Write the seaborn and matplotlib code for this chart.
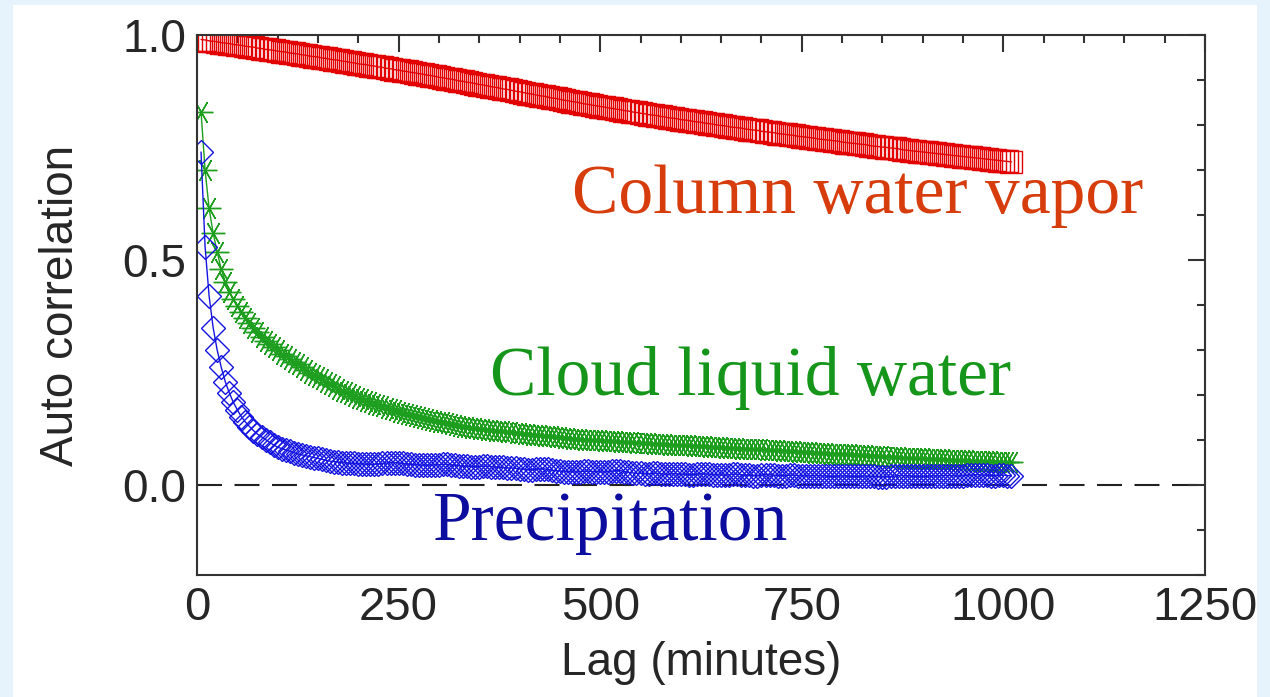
import numpy as np
import pandas as pd
import matplotlib
matplotlib.use('Agg')
import matplotlib.pyplot as plt
from matplotlib.patches import Rectangle
from matplotlib.ticker import MultipleLocator
import seaborn as sns

# lag axis (minutes), one sample every 5 minutes
lags = np.arange(5, 1015, 5)

column_water_vapor = [
    0.990, 0.989, 0.987, 0.986, 0.985, 0.983, 0.982, 0.981, 0.979, 0.978,
    0.977, 0.975, 0.974, 0.973, 0.971, 0.970, 0.968, 0.967, 0.966, 0.964,
    0.963, 0.962, 0.960, 0.959, 0.958, 0.956, 0.955, 0.953, 0.952, 0.951,
    0.949, 0.948, 0.946, 0.945, 0.944, 0.942, 0.941, 0.939, 0.938, 0.936,
    0.935, 0.934, 0.932, 0.931, 0.929, 0.928, 0.926, 0.925, 0.923, 0.922,
    0.920, 0.919, 0.917, 0.916, 0.914, 0.913, 0.911, 0.910, 0.908, 0.906,
    0.905, 0.903, 0.902, 0.900, 0.898, 0.897, 0.895, 0.894, 0.892, 0.890,
    0.889, 0.887, 0.885, 0.884, 0.882, 0.880, 0.879, 0.877, 0.875, 0.874,
    0.872, 0.870, 0.869, 0.867, 0.865, 0.864, 0.862, 0.860, 0.859, 0.857,
    0.855, 0.854, 0.852, 0.851, 0.849, 0.847, 0.846, 0.844, 0.843, 0.841,
    0.840, 0.838, 0.837, 0.835, 0.834, 0.832, 0.831, 0.829, 0.828, 0.826,
    0.825, 0.823, 0.822, 0.821, 0.819, 0.818, 0.816, 0.815, 0.814, 0.812,
    0.811, 0.810, 0.808, 0.807, 0.806, 0.804, 0.803, 0.802, 0.800, 0.799,
    0.798, 0.796, 0.795, 0.794, 0.793, 0.791, 0.790, 0.789, 0.788, 0.786,
    0.785, 0.784, 0.783, 0.781, 0.780, 0.779, 0.778, 0.777, 0.775, 0.774,
    0.773, 0.772, 0.771, 0.769, 0.768, 0.767, 0.766, 0.765, 0.764, 0.762,
    0.761, 0.760, 0.759, 0.758, 0.757, 0.756, 0.754, 0.753, 0.752, 0.751,
    0.750, 0.749, 0.748, 0.747, 0.745, 0.744, 0.743, 0.742, 0.741, 0.740,
    0.739, 0.738, 0.737, 0.736, 0.735, 0.734, 0.733, 0.732, 0.731, 0.730,
    0.729, 0.728, 0.727, 0.726, 0.725, 0.724, 0.723, 0.722, 0.721, 0.720,
    0.719, 0.718,
]

cloud_liquid_water = [
    0.830, 0.700, 0.615, 0.560, 0.518, 0.480, 0.452, 0.430, 0.413, 0.398,
    0.384, 0.371, 0.360, 0.349, 0.339, 0.330, 0.321, 0.313, 0.306, 0.299,
    0.292, 0.286, 0.280, 0.274, 0.268, 0.262, 0.256, 0.250, 0.245, 0.240,
    0.235, 0.229, 0.224, 0.219, 0.214, 0.210, 0.206, 0.202, 0.198, 0.194,
    0.191, 0.187, 0.184, 0.181, 0.178, 0.175, 0.172, 0.169, 0.166, 0.163,
    0.161, 0.158, 0.156, 0.153, 0.151, 0.149, 0.147, 0.145, 0.143, 0.141,
    0.139, 0.137, 0.135, 0.134, 0.132, 0.130, 0.129, 0.127, 0.126, 0.125,
    0.124, 0.123, 0.122, 0.121, 0.120, 0.119, 0.118, 0.117, 0.116, 0.115,
    0.114, 0.113, 0.112, 0.112, 0.111, 0.110, 0.109, 0.108, 0.107, 0.106,
    0.105, 0.104, 0.103, 0.103, 0.102, 0.101, 0.101, 0.100, 0.099, 0.099,
    0.098, 0.098, 0.097, 0.097, 0.096, 0.096, 0.095, 0.095, 0.094, 0.094,
    0.093, 0.093, 0.092, 0.092, 0.091, 0.091, 0.090, 0.090, 0.089, 0.089,
    0.088, 0.088, 0.087, 0.087, 0.086, 0.086, 0.085, 0.085, 0.084, 0.084,
    0.083, 0.083, 0.082, 0.082, 0.081, 0.081, 0.080, 0.080, 0.079, 0.079,
    0.078, 0.078, 0.077, 0.077, 0.076, 0.076, 0.075, 0.075, 0.074, 0.074,
    0.073, 0.073, 0.072, 0.072, 0.071, 0.071, 0.070, 0.070, 0.069, 0.069,
    0.068, 0.068, 0.067, 0.067, 0.066, 0.066, 0.065, 0.065, 0.064, 0.064,
    0.063, 0.063, 0.062, 0.062, 0.061, 0.061, 0.060, 0.060, 0.059, 0.059,
    0.058, 0.058, 0.058, 0.057, 0.057, 0.056, 0.056, 0.056, 0.055, 0.055,
    0.055, 0.054, 0.054, 0.054, 0.053, 0.053, 0.053, 0.052, 0.052, 0.052,
    0.051, 0.051,
]

precipitation = [
    0.740, 0.530, 0.420, 0.350, 0.300, 0.262, 0.230, 0.205, 0.184, 0.167,
    0.152, 0.140, 0.130, 0.121, 0.113, 0.107, 0.101, 0.095, 0.089, 0.084,
    0.081, 0.078, 0.075, 0.072, 0.069, 0.067, 0.065, 0.063, 0.061, 0.059,
    0.057, 0.055, 0.053, 0.052, 0.051, 0.050, 0.049, 0.048, 0.048, 0.047,
    0.047, 0.046, 0.046, 0.046, 0.047, 0.048, 0.049, 0.050, 0.050, 0.049,
    0.048, 0.047, 0.046, 0.045, 0.045, 0.044, 0.044, 0.044, 0.045, 0.045,
    0.046, 0.046, 0.045, 0.044, 0.043, 0.042, 0.042, 0.041, 0.041, 0.041,
    0.042, 0.042, 0.041, 0.040, 0.039, 0.039, 0.038, 0.038, 0.037, 0.036,
    0.035, 0.034, 0.034, 0.035, 0.036, 0.036, 0.035, 0.033, 0.032, 0.031,
    0.030, 0.030, 0.029, 0.029, 0.030, 0.031, 0.031, 0.030, 0.030, 0.029,
    0.029, 0.030, 0.031, 0.032, 0.032, 0.030, 0.028, 0.027, 0.026, 0.026,
    0.025, 0.025, 0.026, 0.026, 0.025, 0.024, 0.024, 0.025, 0.025, 0.024,
    0.024, 0.023, 0.023, 0.024, 0.025, 0.025, 0.024, 0.023, 0.023, 0.022,
    0.022, 0.023, 0.024, 0.024, 0.023, 0.022, 0.022, 0.021, 0.021, 0.022,
    0.023, 0.023, 0.022, 0.021, 0.021, 0.021, 0.022, 0.022, 0.021, 0.021,
    0.020, 0.020, 0.021, 0.021, 0.020, 0.020, 0.019, 0.019, 0.020, 0.020,
    0.020, 0.019, 0.019, 0.019, 0.020, 0.020, 0.019, 0.019, 0.018, 0.018,
    0.018, 0.019, 0.020, 0.021, 0.021, 0.020, 0.020, 0.019, 0.019, 0.019,
    0.019, 0.020, 0.020, 0.020, 0.021, 0.021, 0.021, 0.020, 0.020, 0.021,
    0.022, 0.022, 0.023, 0.023, 0.022, 0.022, 0.021, 0.021, 0.022, 0.022,
    0.021, 0.020,
]

series_labels = ['Column water vapor', 'Cloud liquid water', 'Precipitation']

sns.set_style('white')
plt.rcParams['font.family'] = ['Liberation Sans', 'DejaVu Sans']

fig = plt.figure(figsize=(12.7, 6.97), dpi=100, facecolor='#e6f3fc')
# white card behind the plot
fig.patches.append(Rectangle((13 / 1270, 0), 1244 / 1270, 1 - 5 / 697,
                             transform=fig.transFigure, facecolor='white',
                             edgecolor='none', zorder=-5))
ax = fig.add_axes([197 / 1270, 1 - 575 / 697, 1008 / 1270, 540 / 697])
ax.set_zorder(2)
ax.set_facecolor('white')

df_cwv = pd.DataFrame({'lag': lags, 'r': column_water_vapor})
df_clw = pd.DataFrame({'lag': lags, 'r': cloud_liquid_water})
df_pr = pd.DataFrame({'lag': lags, 'r': precipitation})

sns.lineplot(data=df_cwv, x='lag', y='r', ax=ax, color='#e30000', lw=1.0,
             marker='s', markersize=16, markerfacecolor='none',
             markeredgecolor='#e30000', markeredgewidth=1.0)
sns.lineplot(data=df_clw, x='lag', y='r', ax=ax, color='#1e9e1e', lw=1.0,
             marker=(6, 2, 90), markersize=17, markerfacecolor='none',
             markeredgecolor='#1e9e1e', markeredgewidth=1.0)
sns.lineplot(data=df_pr, x='lag', y='r', ax=ax, color='#1414e0', lw=1.0,
             marker='D', markersize=12, markerfacecolor='none',
             markeredgecolor='#1414e0', markeredgewidth=1.0)

ax.axhline(0, color='#222222', lw=1.5, dashes=(12, 6), zorder=0.5)

ax.set_xlim(0, 1250)
ax.set_ylim(-0.2, 1.0)
ax.xaxis.set_major_locator(MultipleLocator(250))
ax.xaxis.set_minor_locator(MultipleLocator(50))
ax.yaxis.set_major_locator(MultipleLocator(0.5))
ax.yaxis.set_minor_locator(MultipleLocator(0.1))
ax.set_yticks([0.0, 0.5, 1.0])
ax.set_yticklabels(['0.0', '0.5', '1.0'])

ax.tick_params(which='both', direction='in', top=True, right=True,
               color='#333333', width=1.5)
ax.tick_params(which='major', length=12)
ax.tick_params(which='minor', length=6)
ax.tick_params(axis='x', which='major', labelsize=34, pad=8)
ax.tick_params(axis='y', which='major', labelsize=33, pad=8)
for s in ax.spines.values():
    s.set_color('#333333')
    s.set_linewidth(1.5)

ax.set_xlabel('Lag (minutes)', fontsize=33, labelpad=8)
ax.set_ylabel('Auto correlation', fontsize=33, labelpad=28)

# inline series labels
serif = ['Liberation Serif', 'DejaVu Serif']
ax.text(465, 0.604, series_labels[0], color='#d63c0c', fontsize=50,
        family=serif, ha='left', va='baseline')
ax.text(363, 0.200, series_labels[1], color='#15961a', fontsize=50,
        family=serif, ha='left', va='baseline')
ax.text(293, -0.122, series_labels[2], color='#0c0c9e', fontsize=50,
        family=serif, ha='left', va='baseline')

fig.savefig('out.png', dpi=100, facecolor=fig.get_facecolor())
